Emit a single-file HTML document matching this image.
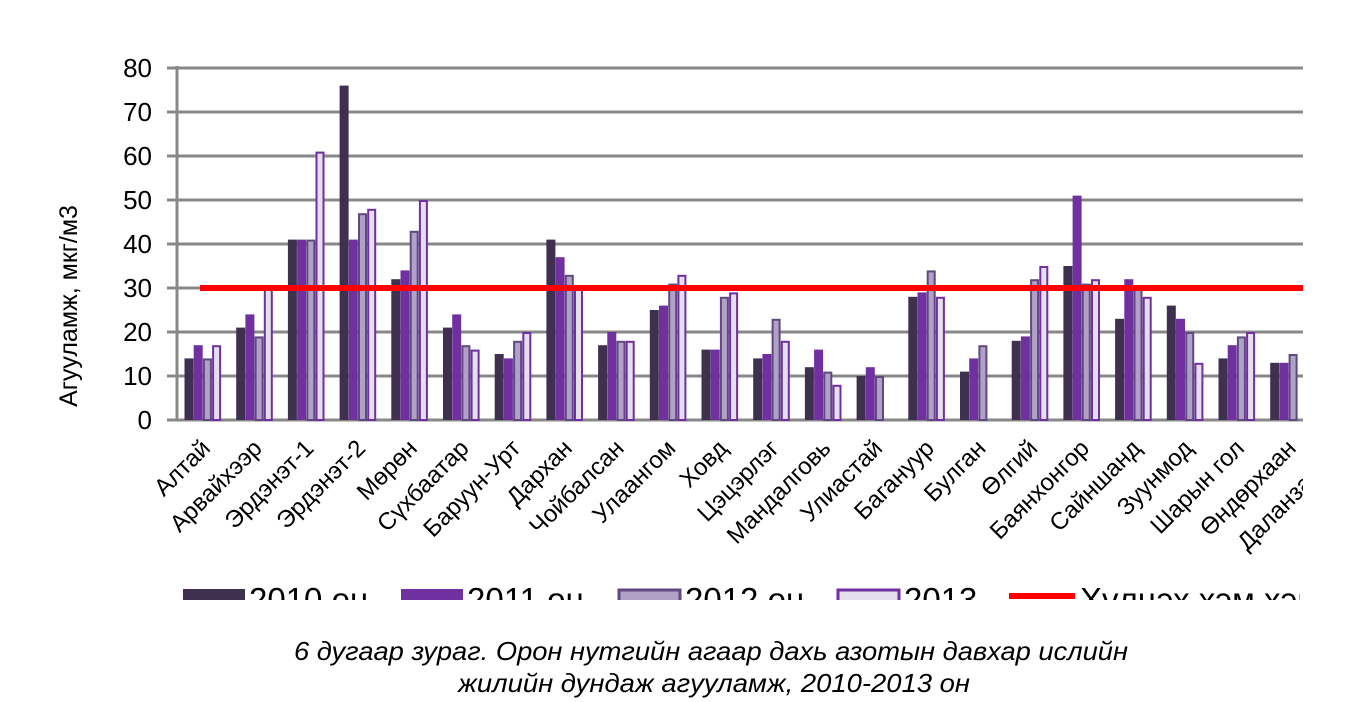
<!DOCTYPE html>
<html><head><meta charset="utf-8"><style>
html,body{margin:0;padding:0;background:#fff;}
body{width:1368px;height:702px;overflow:hidden;position:relative;font-family:"Liberation Sans",sans-serif;}
</style></head><body>
<svg width="1368" height="702" style="position:absolute;left:0;top:0" font-family="Liberation Sans, sans-serif">
<defs><clipPath id="lc"><rect x="0" y="560" width="1300" height="40"/></clipPath>
<clipPath id="xc"><rect x="0" y="425" width="1303" height="150"/></clipPath></defs>
<g stroke="#888" stroke-width="3">
<line x1="167" y1="68" x2="1303" y2="68"/><line x1="167" y1="112" x2="1303" y2="112"/>
<line x1="167" y1="156" x2="1303" y2="156"/><line x1="167" y1="200" x2="1303" y2="200"/>
<line x1="167" y1="244" x2="1303" y2="244"/><line x1="167" y1="288" x2="1303" y2="288"/>
<line x1="167" y1="332" x2="1303" y2="332"/><line x1="167" y1="376" x2="1303" y2="376"/>
<line x1="167" y1="420" x2="1303" y2="420"/><line x1="177" y1="66" x2="177" y2="420"/>
</g>
<g font-size="26" text-anchor="end" fill="#000">
<text x="152" y="77">80</text><text x="152" y="121">70</text><text x="152" y="165">60</text>
<text x="152" y="209">50</text><text x="152" y="253">40</text><text x="152" y="297">30</text>
<text x="152" y="341">20</text><text x="152" y="385">10</text><text x="152" y="429">0</text>
</g>
<text transform="translate(77,306) rotate(-90)" font-size="25" text-anchor="middle">Агууламж, мкг/м3</text>
<g id="bars"></g>
<line x1="200" y1="288" x2="1303" y2="288" stroke="#ff0000" stroke-width="6"/>
<g id="labels" clip-path="url(#xc)" font-size="24" text-anchor="end"></g>
<g clip-path="url(#lc)" font-size="33">
<rect x="183" y="589" width="62" height="13" fill="#3f3050"/><text x="249" y="611">2010 он</text>
<rect x="401" y="589" width="62" height="13" fill="#7030a0"/><text x="467" y="611">2011 он</text>
<rect x="619" y="590" width="61" height="12" fill="#b1a0c7" stroke="#5f4a80" stroke-width="3"/><text x="685" y="611">2012 он</text>
<rect x="838" y="590" width="61" height="12" fill="#e4dfec" stroke="#7030a0" stroke-width="3"/><text x="904" y="611">2013</text>
<line x1="1009" y1="596" x2="1075" y2="596" stroke="#ff0000" stroke-width="6"/><text x="1080" y="611">Хүлцэх хэм хэмжээ</text>
</g>
<g font-size="26" font-style="italic" text-anchor="middle">
<text x="711" y="660" textLength="834" lengthAdjust="spacingAndGlyphs">6 дугаар зураг. Орон нутгийн агаар дахь азотын давхар ислийн</text>
<text x="714" y="692" textLength="512" lengthAdjust="spacingAndGlyphs">жилийн дундаж агууламж, 2010-2013 он</text>
</g>
</svg>
<script>
var d=[[14,17,14,17],[21,24,19,30],[41,41,41,61],[76,41,47,48],[32,34,43,50],[21,24,17,16],[15,14,18,20],[41,37,33,30],[17,20,18,18],[25,26,31,33],[16,16,28,29],[14,15,23,18],[12,16,11,8],[10,12,10,0],[28,29,34,28],[11,14,17,0],[18,19,32,35],[35,51,31,32],[23,32,30,28],[26,23,20,13],[14,17,19,20],[13,13,15,0]];
var ns="http://www.w3.org/2000/svg",g=document.getElementById("bars");
var st=[["#3f3050","none",0],["#7030a0","none",0],["#b1a0c7","#5f4a80",2],["#e4dfec","#7030a0",2]];
d.forEach(function(r,i){var x0=184.5+i*51.7;r.forEach(function(v,j){if(!v)return;var h=v*4.4,x=x0+j*9.2,s=st[j],e=document.createElementNS(ns,"rect");
var w=9;if(s[2]){e.setAttribute("x",x+1);e.setAttribute("y",420-h+1);e.setAttribute("width",w-2);e.setAttribute("height",h-1);}else{e.setAttribute("x",x);e.setAttribute("y",420-h);e.setAttribute("width",w);e.setAttribute("height",h);}
e.setAttribute("fill",s[0]);e.setAttribute("stroke",s[1]);e.setAttribute("stroke-width",s[2]);g.appendChild(e);});});
var L=["Алтай","Арвайхээр","Эрдэнэт-1","Эрдэнэт-2","Мөрөн","Сүхбаатар","Баруун-Урт","Дархан","Чойбалсан","Улаангом","Ховд","Цэцэрлэг","Мандалговь","Улиастай","Багануур","Булган","Өлгий","Баянхонгор","Сайншанд","Зуунмод","Шарын гол","Өндөрхаан","Даланзадгад"];
var lg=document.getElementById("labels");
L.forEach(function(t,i){var x=206+i*51.7,y=444,e=document.createElementNS(ns,"text");e.setAttribute("transform","translate("+x+","+y+") rotate(-45)");e.setAttribute("x",0);e.setAttribute("y",8);e.textContent=t;lg.appendChild(e);});
</script>
</body></html>
